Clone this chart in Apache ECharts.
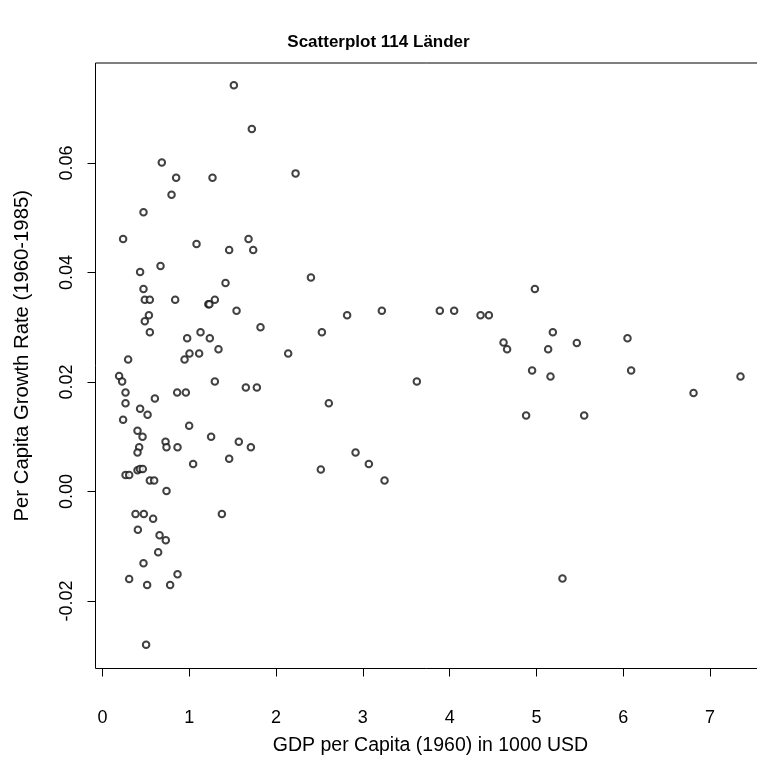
<!DOCTYPE html>
<html>
<head>
<meta charset="utf-8">
<title>Scatterplot 114 Länder</title>
<script src="https://cdn.jsdelivr.net/npm/echarts@6/dist/echarts.min.js"></script>
<style>
  html, body { margin: 0; padding: 0; background: #fff; }
  #chart { width: 757px; height: 758px; }
</style>
</head>
<body>
<div id="chart"></div>
<script>
// GDP per capita in 1960 (1000 USD), one entry per country
const gdp = [
  1.514, 1.721, 0.684, 0.849, 1.268, 0.796, 0.473, 0.238, 1.084, 1.683,
  1.460, 1.737, 0.434, 0.669, 2.225, 1.418, 0.473, 0.488, 0.546, 0.838,
  1.220, 1.232, 1.295, 1.545, 0.535, 0.488, 1.821, 0.546, 1.130, 0.976,
  1.237, 1.337, 1.003, 1.114, 0.946, 0.296, 2.140, 0.192, 0.227, 1.295,
  1.652, 1.779, 0.266, 0.861, 0.961, 0.604, 0.266, 0.434, 0.520, 0.238,
  0.999, 0.404, 0.462, 1.252, 0.727, 1.571, 0.423, 0.404, 0.738, 0.865,
  1.710, 1.460, 1.045, 0.404, 0.432, 0.465, 0.266, 0.308, 0.546, 0.596,
  0.738, 2.402, 2.819, 3.219, 2.528, 2.608, 2.916, 3.069, 2.516, 3.250,
  4.982, 3.887, 4.052, 4.356, 4.452, 5.189, 6.049, 4.621, 4.662, 5.135,
  5.465, 4.950, 5.162, 6.091, 7.351, 6.810, 3.622, 4.881, 5.550, 0.381,
  0.477, 0.584, 1.376, 0.408, 0.658, 0.730, 0.642, 0.473, 0.308, 0.865,
  0.515, 0.780, 0.503, 5.300
];

// Average per capita growth rate 1960-1985, same order as gdp
const growth = [
  0.0742, 0.0662, 0.0601, 0.0573, 0.0573, 0.0542, 0.0510, 0.0461, 0.0452, 0.0461,
  0.0441, 0.0441, 0.0401, 0.0412, 0.0581, 0.0381, 0.0370, 0.0350, 0.0350, 0.0350,
  0.0342, 0.0342, 0.0350, 0.0330, 0.0322, 0.0311, 0.0300, 0.0291, 0.0291, 0.0280,
  0.0280, 0.0260, 0.0252, 0.0252, 0.0241, 0.0241, 0.0252, 0.0211, 0.0201, 0.0201,
  0.0190, 0.0190, 0.0181, 0.0181, 0.0181, 0.0170, 0.0161, 0.0151, 0.0140, 0.0131,
  0.0120, 0.0111, 0.0100, 0.0100, 0.0091, 0.0091, 0.0081, 0.0071, 0.0081, 0.0081,
  0.0081, 0.0060, 0.0050, 0.0039, 0.0041, 0.0041, 0.0030, 0.0030, 0.0020, 0.0020,
  0.0001, 0.0391, 0.0322, 0.0330, 0.0291, 0.0161, 0.0071, 0.0050, 0.0040, 0.0020,
  0.0370, 0.0330, 0.0330, 0.0322, 0.0322, 0.0291, 0.0280, 0.0272, 0.0260, 0.0260,
  0.0271, 0.0221, 0.0210, 0.0221, 0.0210, 0.0180, 0.0201, 0.0139, 0.0139, -0.0041,
  -0.0041, -0.0050, -0.0041, -0.0070, -0.0080, -0.0089, -0.0111, -0.0131, -0.0160, -0.0151,
  -0.0171, -0.0171, -0.0280, -0.0159
];

// Tick positions on both axes
const xTicks = [0, 1, 2, 3, 4, 5, 6, 7];
const yTicks = [-0.02, 0, 0.02, 0.04, 0.06];

const points = gdp.map((g, i) => [g, growth[i]]);

const FONT = '"Liberation Sans", Arial, Helvetica, sans-serif';
const chart = echarts.init(document.getElementById('chart'), null, { renderer: 'canvas' });

chart.setOption({
  backgroundColor: '#ffffff',
  animation: false,
  title: {
    text: 'Scatterplot 114 Länder',
    left: 'center',
    top: 29,
    textStyle: { fontFamily: FONT, fontSize: 17, fontWeight: 'bold', color: '#000' }
  },
  grid: {
    left: 95.5,
    top: 63,
    width: 670,
    height: 605.5,
    outerBoundsMode: 'none',
    containLabel: false,
    show: true,
    borderColor: '#000',
    borderWidth: 1,
    backgroundColor: 'transparent'
  },
  xAxis: {
    type: 'value',
    min: -0.08,
    max: 7.639,
    name: 'GDP per Capita (1960) in 1000 USD',
    nameLocation: 'middle',
    nameGap: 67,
    nameTextStyle: { fontFamily: FONT, fontSize: 19.5, color: '#000' },
    axisLine: { show: false, onZero: false },
    splitLine: { show: false },
    axisTick: {
      show: true,
      inside: false,
      length: 8,
      customValues: xTicks,
      lineStyle: { color: '#000', width: 1 }
    },
    axisLabel: {
      customValues: xTicks,
      margin: 41,
      fontFamily: FONT,
      fontSize: 18,
      color: '#000'
    }
  },
  yAxis: {
    type: 'value',
    min: -0.03233,
    max: 0.07826,
    name: 'Per Capita Growth Rate (1960-1985)',
    nameLocation: 'middle',
    nameGap: 63,
    nameRotate: 90,
    nameTextStyle: {
      fontFamily: FONT,
      fontSize: 20.3,
      color: '#000',
      padding: [0, 0, 0, 20]
    },
    axisLine: { show: false, onZero: false },
    splitLine: { show: false },
    axisTick: {
      show: true,
      inside: false,
      length: 8,
      customValues: yTicks,
      lineStyle: { color: '#000', width: 1 }
    },
    axisLabel: {
      customValues: yTicks,
      rotate: 90,
      margin: 19,
      fontFamily: FONT,
      fontSize: 18,
      color: '#000',
      formatter: v => v.toFixed(2)
    }
  },
  series: [{
    type: 'scatter',
    data: points,
    symbol: 'emptyCircle',
    symbolSize: 6.5,
    itemStyle: { color: '#111', borderColor: '#111', borderWidth: 0.85 },
    emphasis: { disabled: true }
  }]
});
</script>
</body>
</html>
